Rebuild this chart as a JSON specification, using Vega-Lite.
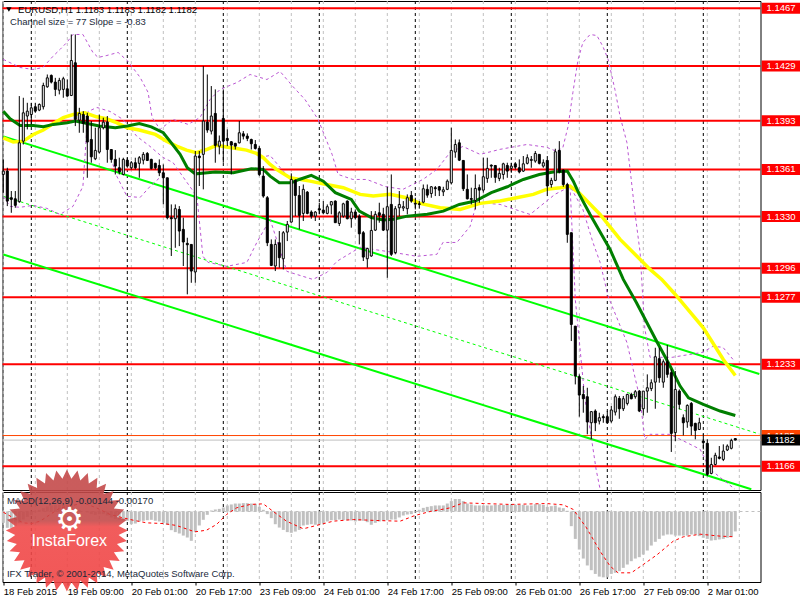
{"$schema":"https://vega.github.io/schema/vega-lite/v6.json","padding":{"left":-4.5,"top":0,"right":5,"bottom":16},"background":"white","spacing":2,"bounds":"flush","config":{"scale":{"continuousPadding":0},"view":{"stroke":"black","strokeWidth":1},"text":{"font":"Liberation Sans"},"axis":{"labelFont":"Liberation Sans","labelFontSize":9.5,"labelColor":"black","titleFontSize":0}},
"datasets":{
"gx":[{"i":0},{"i":8},{"i":16},{"i":24},{"i":32},{"i":40},{"i":48},{"i":56},{"i":64},{"i":72},{"i":80},{"i":88},{"i":96},{"i":104},{"i":112},{"i":120},{"i":128},{"i":136},{"i":144},{"i":152},{"i":160},{"i":168},{"i":176},{"i":184}],
"sep":[{"i":7},{"i":31},{"i":55},{"i":79},{"i":103},{"i":127},{"i":151},{"i":175}],
"lv":[{"p":1.1467},{"p":1.1429},{"p":1.1393},{"p":1.1361},{"p":1.133},{"p":1.1296},{"p":1.1277},{"p":1.1233},{"p":1.1166}],
"ch":[{"i":0,"p":1.13816,"s":"u"},{"i":189,"p":1.12254,"s":"u"},{"i":0,"p":1.1304,"s":"d"},{"i":187,"p":1.11497,"s":"d"}],
"mid":[{"i":0,"p":1.13422},{"i":189,"p":1.1186}],
"yel":[{"i":0,"p":1.13807},{"i":2.5,"p":1.13779},{"i":5,"p":1.13785},{"i":7.5,"p":1.13829},{"i":10,"p":1.13858},{"i":12.5,"p":1.13901},{"i":15,"p":1.13939},{"i":17.5,"p":1.1396},{"i":20.4,"p":1.13971},{"i":23.3,"p":1.13945},{"i":25.8,"p":1.13932},{"i":28.3,"p":1.13906},{"i":31,"p":1.13873},{"i":34,"p":1.13858},{"i":38,"p":1.13829},{"i":40.8,"p":1.13785},{"i":43.3,"p":1.13752},{"i":45.8,"p":1.13726},{"i":48.3,"p":1.13709},{"i":50.8,"p":1.1373},{"i":53.3,"p":1.13757},{"i":55.8,"p":1.13746},{"i":58.3,"p":1.13737},{"i":60.8,"p":1.13726},{"i":63.3,"p":1.13704},{"i":65,"p":1.13676},{"i":66.7,"p":1.13632},{"i":68.3,"p":1.13599},{"i":71.7,"p":1.13544},{"i":76.7,"p":1.13522},{"i":80.8,"p":1.135},{"i":85,"p":1.13479},{"i":89.2,"p":1.13435},{"i":92.5,"p":1.13424},{"i":96.7,"p":1.13435},{"i":100.8,"p":1.13413},{"i":104.2,"p":1.13376},{"i":109.2,"p":1.13347},{"i":114.2,"p":1.13336},{"i":119.2,"p":1.13376},{"i":124.2,"p":1.13391},{"i":128.3,"p":1.13413},{"i":132.5,"p":1.13435},{"i":135.8,"p":1.13468},{"i":139.2,"p":1.13479},{"i":141.7,"p":1.1349},{"i":144,"p":1.13444},{"i":149.2,"p":1.13303},{"i":154.2,"p":1.13139},{"i":161.7,"p":1.12942},{"i":164.6,"p":1.12876},{"i":168,"p":1.12777},{"i":175,"p":1.12558},{"i":180,"p":1.1235},{"i":183,"p":1.12245}],
"grn":[{"i":0,"p":1.13982},{"i":1.7,"p":1.13932},{"i":4.2,"p":1.13888},{"i":7.5,"p":1.13888},{"i":10,"p":1.13879},{"i":12.5,"p":1.13895},{"i":16,"p":1.13906},{"i":18,"p":1.13917},{"i":21,"p":1.13901},{"i":24,"p":1.13884},{"i":28,"p":1.13873},{"i":31,"p":1.13884},{"i":34,"p":1.13901},{"i":37,"p":1.13879},{"i":40,"p":1.1384},{"i":42,"p":1.13774},{"i":44.2,"p":1.13698},{"i":46,"p":1.1361},{"i":48,"p":1.1357},{"i":51,"p":1.13577},{"i":53,"p":1.13582},{"i":57.5,"p":1.13577},{"i":62,"p":1.13604},{"i":65,"p":1.13599},{"i":66.7,"p":1.13555},{"i":69,"p":1.13511},{"i":72,"p":1.13511},{"i":74,"p":1.13533},{"i":77,"p":1.1356},{"i":80,"p":1.13522},{"i":83,"p":1.13446},{"i":87,"p":1.13402},{"i":89,"p":1.13325},{"i":92,"p":1.13282},{"i":95,"p":1.13266},{"i":97.5,"p":1.13271},{"i":101,"p":1.13292},{"i":106,"p":1.13304},{"i":110,"p":1.13325},{"i":114,"p":1.13369},{"i":118,"p":1.13391},{"i":122,"p":1.13446},{"i":126,"p":1.13485},{"i":130,"p":1.13533},{"i":134,"p":1.13566},{"i":137.5,"p":1.13582},{"i":141,"p":1.13588},{"i":142.5,"p":1.13522},{"i":144,"p":1.13435},{"i":146.7,"p":1.13303},{"i":151.7,"p":1.13073},{"i":155,"p":1.12876},{"i":158.3,"p":1.12723},{"i":163.3,"p":1.12471},{"i":166.7,"p":1.12307},{"i":169.2,"p":1.12175},{"i":171.3,"p":1.12098},{"i":175,"p":1.12055},{"i":179.2,"p":1.12011},{"i":183,"p":1.11982}],
"bb":[{"s":"a","i":0,"p":1.14322},{"s":"a","i":4.2,"p":1.14269},{"s":"a","i":7.4,"p":1.14256},{"s":"a","i":9.9,"p":1.14269},{"s":"a","i":12.4,"p":1.14342},{"s":"a","i":14.2,"p":1.14388},{"s":"a","i":15.9,"p":1.14434},{"s":"a","i":17.4,"p":1.14486},{"s":"a","i":19.9,"p":1.14486},{"s":"a","i":22.4,"p":1.14368},{"s":"a","i":23.7,"p":1.14335},{"s":"a","i":25.9,"p":1.14348},{"s":"a","i":28.7,"p":1.14368},{"s":"a","i":31.2,"p":1.14309},{"s":"a","i":34.2,"p":1.14204},{"s":"a","i":36.2,"p":1.14105},{"s":"a","i":37.2,"p":1.13941},{"s":"a","i":39.2,"p":1.13862},{"s":"a","i":42.4,"p":1.13928},{"s":"a","i":46.2,"p":1.13895},{"s":"a","i":49.2,"p":1.13941},{"s":"a","i":51.7,"p":1.14059},{"s":"a","i":54.2,"p":1.14125},{"s":"a","i":58.4,"p":1.1417},{"s":"a","i":61.7,"p":1.14223},{"s":"a","i":65.9,"p":1.1419},{"s":"a","i":69.2,"p":1.14243},{"s":"a","i":72.4,"p":1.14144},{"s":"a","i":75.4,"p":1.14059},{"s":"a","i":78.7,"p":1.13928},{"s":"a","i":82.2,"p":1.13698},{"s":"a","i":83.7,"p":1.13566},{"s":"a","i":87.4,"p":1.13533},{"s":"a","i":90.9,"p":1.13533},{"s":"a","i":95.4,"p":1.13487},{"s":"a","i":99.9,"p":1.13468},{"s":"a","i":104.9,"p":1.13533},{"s":"a","i":108.4,"p":1.13599},{"s":"a","i":111.7,"p":1.13711},{"s":"a","i":114.9,"p":1.1375},{"s":"a","i":119.2,"p":1.13698},{"s":"a","i":124.2,"p":1.13731},{"s":"a","i":130.9,"p":1.13763},{"s":"a","i":135.9,"p":1.13744},{"s":"a","i":138.4,"p":1.13717},{"s":"a","i":139.9,"p":1.13744},{"s":"a","i":141.2,"p":1.13882},{"s":"a","i":142.4,"p":1.14105},{"s":"a","i":143.7,"p":1.14322},{"s":"a","i":144.9,"p":1.14433},{"s":"a","i":146.7,"p":1.14486},{"s":"a","i":148.4,"p":1.14479},{"s":"a","i":149.9,"p":1.14407},{"s":"a","i":151.2,"p":1.14322},{"s":"a","i":152.9,"p":1.14125},{"s":"a","i":154.2,"p":1.13947},{"s":"a","i":155.9,"p":1.13776},{"s":"a","i":156.7,"p":1.13599},{"s":"a","i":157.9,"p":1.13317},{"s":"a","i":159.2,"p":1.13054},{"s":"a","i":159.9,"p":1.12745},{"s":"a","i":160.4,"p":1.12548},{"s":"a","i":161.7,"p":1.12364},{"s":"a","i":167.2,"p":1.12364},{"s":"a","i":174.9,"p":1.12397},{"s":"a","i":177.4,"p":1.12436},{"s":"a","i":179.9,"p":1.1243},{"s":"a","i":182.4,"p":1.12351},
{"s":"b","i":0,"p":1.13422},{"s":"b","i":1.7,"p":1.13356},{"s":"b","i":4.2,"p":1.1335},{"s":"b","i":7.4,"p":1.13363},{"s":"b","i":10.9,"p":1.13343},{"s":"b","i":14.2,"p":1.13303},{"s":"b","i":17.4,"p":1.13356},{"s":"b","i":19.9,"p":1.13487},{"s":"b","i":21.2,"p":1.1398},{"s":"b","i":23.4,"p":1.14006},{"s":"b","i":26.7,"p":1.1398},{"s":"b","i":29.9,"p":1.13928},{"s":"b","i":33.4,"p":1.13816},{"s":"b","i":36.7,"p":1.1375},{"s":"b","i":39.9,"p":1.13678},{"s":"b","i":42.4,"p":1.13645},{"s":"b","i":45.9,"p":1.13514},{"s":"b","i":48.4,"p":1.13422},{"s":"b","i":49.9,"p":1.13028},{"s":"b","i":51.2,"p":1.12988},{"s":"b","i":55.9,"p":1.12962},{"s":"b","i":60.9,"p":1.12988},{"s":"b","i":63.4,"p":1.1312},{"s":"b","i":66.7,"p":1.13271},{"s":"b","i":70.9,"p":1.12929},{"s":"b","i":77.4,"p":1.12876},{"s":"b","i":80.9,"p":1.12922},{"s":"b","i":83.4,"p":1.12995},{"s":"b","i":89.2,"p":1.13087},{"s":"b","i":97.4,"p":1.13054},{"s":"b","i":103.4,"p":1.13028},{"s":"b","i":108.4,"p":1.13041},{"s":"b","i":109.9,"p":1.13119},{"s":"b","i":113.4,"p":1.13119},{"s":"b","i":116.7,"p":1.13225},{"s":"b","i":118.4,"p":1.13382},{"s":"b","i":124.2,"p":1.13369},{"s":"b","i":131.7,"p":1.13303},{"s":"b","i":137.9,"p":1.13435},{"s":"b","i":141.7,"p":1.13487},{"s":"b","i":144.9,"p":1.13336},{"s":"b","i":147.4,"p":1.1312},{"s":"b","i":149.2,"p":1.12988},{"s":"b","i":151.2,"p":1.12765},{"s":"b","i":155.9,"p":1.12462},{"s":"b","i":159.2,"p":1.12088},{"s":"b","i":160.4,"p":1.11825},{"s":"b","i":161.7,"p":1.11858},{"s":"b","i":166.7,"p":1.11858},{"s":"b","i":174.2,"p":1.1176},{"s":"b","i":176.7,"p":1.11628},{"s":"b","i":182.9,"p":1.11497},
{"s":"c","i":27.4,"p":1.13632},{"s":"c","i":28.4,"p":1.13553},{"s":"c","i":30.9,"p":1.13422},{"s":"c","i":34.2,"p":1.13415},{"s":"c","i":36.7,"p":1.13487},{"s":"c","i":39.2,"p":1.13547},
{"s":"e","i":64.2,"p":1.13678},{"s":"e","i":66.7,"p":1.13691},{"s":"e","i":69.2,"p":1.13612},{"s":"e","i":70.9,"p":1.13562},
{"s":"f","i":141.7,"p":1.13487},{"s":"f","i":143,"p":1.12745},{"s":"f","i":145.4,"p":1.12088},{"s":"f","i":146.7,"p":1.11891},{"s":"f","i":148.2,"p":1.11628},{"s":"f","i":149.2,"p":1.11497}],
"sig":[{"i":0,"v":-0.00005},{"i":2.5,"v":-0.00046},{"i":5,"v":-0.00082},{"i":7.1,"v":-0.00087},{"i":9.2,"v":-0.0007},{"i":11.7,"v":-0.00022},{"i":14.2,"v":0.00036},{"i":16.7,"v":0.00053},{"i":20,"v":0.00086},{"i":23.3,"v":0.00036},{"i":26.7,"v":-0.00022},{"i":30,"v":-0.00046},{"i":32.5,"v":-0.00063},{"i":35.8,"v":-0.00082},{"i":40,"v":-0.00087},{"i":43.3,"v":-0.00101},{"i":47.9,"v":-0.00147},{"i":50.8,"v":-0.00135},{"i":53.3,"v":-0.00094},{"i":55.8,"v":-0.00022},{"i":58.3,"v":0.00036},{"i":61.7,"v":0.0007},{"i":65,"v":0.00076},{"i":67.5,"v":0},{"i":70.8,"v":-0.0007},{"i":75,"v":-0.00125},{"i":79.2,"v":-0.00094},{"i":82.5,"v":-0.0007},{"i":87.5,"v":-0.00058},{"i":93.3,"v":-0.00065},{"i":99.2,"v":-0.0007},{"i":102.9,"v":-0.00029},{"i":106.7,"v":0},{"i":111.7,"v":0.00036},{"i":115,"v":0.00086},{"i":120,"v":0.00079},{"i":126.7,"v":0.0007},{"i":135.8,"v":0.00079},{"i":140,"v":0.00066},{"i":142.5,"v":0.0002},{"i":145.8,"v":-0.00118},{"i":149.2,"v":-0.00287},{"i":151.7,"v":-0.00395},{"i":153.7,"v":-0.00443},{"i":157,"v":-0.00443},{"i":160,"v":-0.00383},{"i":163.5,"v":-0.00311},{"i":167.5,"v":-0.00214},{"i":170,"v":-0.00183},{"i":174.2,"v":-0.00164},{"i":179.2,"v":-0.00178},{"i":183,"v":-0.00183}],
"hist":[{"i":0,"v":-0.00082},{"i":1,"v":-0.00118},{"i":2,"v":-0.00118},{"i":3,"v":-0.00106},{"i":4,"v":-0.00082},{"i":5,"v":-0.00058},{"i":6,"v":-0.00039},{"i":7,"v":-0.00024},{"i":8,"v":-0.00005},{"i":9,"v":0.00017},{"i":10,"v":0.00033},{"i":11,"v":0.0005},{"i":12,"v":0.0006},{"i":13,"v":0.00066},{"i":14,"v":0.00066},{"i":15,"v":0.00066},{"i":16,"v":0.00066},{"i":17,"v":0.00073},{"i":18,"v":0.00033},{"i":19,"v":0.00013},{"i":20,"v":0},{"i":21,"v":-0.00007},{"i":22,"v":-0.00019},{"i":23,"v":-0.00024},{"i":24,"v":-0.00019},{"i":25,"v":-0.00019},{"i":26,"v":-0.00029},{"i":27,"v":-0.00043},{"i":28,"v":-0.00053},{"i":29,"v":-0.00058},{"i":30,"v":-0.00063},{"i":31,"v":-0.00067},{"i":32,"v":-0.00092},{"i":33,"v":-0.00087},{"i":34,"v":-0.00072},{"i":35,"v":-0.00067},{"i":36,"v":-0.00063},{"i":37,"v":-0.0006},{"i":38,"v":-0.00067},{"i":39,"v":-0.00072},{"i":40,"v":-0.00082},{"i":41,"v":-0.00096},{"i":42,"v":-0.00135},{"i":43,"v":-0.00149},{"i":44,"v":-0.00159},{"i":45,"v":-0.00174},{"i":46,"v":-0.00188},{"i":47,"v":-0.00212},{"i":48,"v":-0.00149},{"i":49,"v":-0.00101},{"i":50,"v":-0.0006},{"i":51,"v":-0.00024},{"i":52,"v":0.0001},{"i":53,"v":0.0002},{"i":54,"v":0.00026},{"i":55,"v":0.0004},{"i":56,"v":0.0006},{"i":57,"v":0.0007},{"i":58,"v":0.00079},{"i":59,"v":0.00079},{"i":60,"v":0.00083},{"i":61,"v":0.00083},{"i":62,"v":0.00079},{"i":63,"v":0.00076},{"i":64,"v":0.00046},{"i":65,"v":0.00017},{"i":66,"v":-0.00019},{"i":67,"v":-0.00048},{"i":68,"v":-0.00092},{"i":69,"v":-0.00116},{"i":70,"v":-0.00133},{"i":71,"v":-0.00149},{"i":72,"v":-0.00154},{"i":73,"v":-0.00145},{"i":74,"v":-0.00133},{"i":75,"v":-0.00101},{"i":76,"v":-0.00096},{"i":77,"v":-0.00092},{"i":78,"v":-0.00096},{"i":79,"v":-0.00096},{"i":80,"v":-0.00087},{"i":81,"v":-0.00072},{"i":82,"v":-0.00063},{"i":83,"v":-0.00063},{"i":84,"v":-0.00058},{"i":85,"v":-0.00063},{"i":86,"v":-0.00063},{"i":87,"v":-0.00065},{"i":88,"v":-0.00072},{"i":89,"v":-0.00067},{"i":90,"v":-0.00067},{"i":91,"v":-0.00077},{"i":92,"v":-0.00096},{"i":93,"v":-0.00082},{"i":94,"v":-0.00072},{"i":95,"v":-0.00067},{"i":96,"v":-0.00063},{"i":97,"v":-0.00058},{"i":98,"v":-0.00058},{"i":99,"v":-0.00043},{"i":100,"v":-0.00029},{"i":101,"v":-0.00022},{"i":102,"v":-0.00019},{"i":103,"v":-0.00007},{"i":104,"v":0.00017},{"i":105,"v":0.00036},{"i":106,"v":0.00046},{"i":107,"v":0.00053},{"i":108,"v":0.0006},{"i":109,"v":0.0006},{"i":110,"v":0.0006},{"i":111,"v":0.00079},{"i":112,"v":0.00103},{"i":113,"v":0.00124},{"i":114,"v":0.00124},{"i":115,"v":0.00103},{"i":116,"v":0.00079},{"i":117,"v":0.0007},{"i":118,"v":0.0006},{"i":119,"v":0.0006},{"i":120,"v":0.0006},{"i":121,"v":0.0006},{"i":122,"v":0.0006},{"i":123,"v":0.00066},{"i":124,"v":0.00066},{"i":125,"v":0.00066},{"i":126,"v":0.00066},{"i":127,"v":0.00066},{"i":128,"v":0.00066},{"i":129,"v":0.00066},{"i":130,"v":0.00066},{"i":131,"v":0.0006},{"i":132,"v":0.0006},{"i":133,"v":0.00073},{"i":134,"v":0.00073},{"i":135,"v":0.00066},{"i":136,"v":0.00046},{"i":137,"v":0.00053},{"i":138,"v":0.0006},{"i":139,"v":0.0004},{"i":140,"v":0.00033},{"i":141,"v":0.00007},{"i":142,"v":-0.00106},{"i":143,"v":-0.00198},{"i":144,"v":-0.00275},{"i":145,"v":-0.0034},{"i":146,"v":-0.0039},{"i":147,"v":-0.00424},{"i":148,"v":-0.00451},{"i":149,"v":-0.0047},{"i":150,"v":-0.00475},{"i":151,"v":-0.00475},{"i":152,"v":-0.00451},{"i":153,"v":-0.00443},{"i":154,"v":-0.00431},{"i":155,"v":-0.00407},{"i":156,"v":-0.00383},{"i":157,"v":-0.00359},{"i":158,"v":-0.0034},{"i":159,"v":-0.0033},{"i":160,"v":-0.00311},{"i":161,"v":-0.00282},{"i":162,"v":-0.00246},{"i":163,"v":-0.00219},{"i":164,"v":-0.00198},{"i":165,"v":-0.00174},{"i":166,"v":-0.00166},{"i":167,"v":-0.00166},{"i":168,"v":-0.00174},{"i":169,"v":-0.00174},{"i":170,"v":-0.00174},{"i":171,"v":-0.00174},{"i":172,"v":-0.00166},{"i":173,"v":-0.00166},{"i":174,"v":-0.00178},{"i":175,"v":-0.0019},{"i":176,"v":-0.00198},{"i":177,"v":-0.0021},{"i":178,"v":-0.00207},{"i":179,"v":-0.00202},{"i":180,"v":-0.00198},{"i":181,"v":-0.0019},{"i":182,"v":-0.00183},{"i":183,"v":-0.00144}],
"ohlc":[{"i":0,"o":1.13566,"h":1.13665,"l":1.13446,"c":1.13588},{"i":1,"o":1.13588,"h":1.1361,"l":1.13358,"c":1.13391},{"i":2,"o":1.13413,"h":1.13457,"l":1.13314,"c":1.13402},{"i":3,"o":1.13406,"h":1.13457,"l":1.13347,"c":1.13363},{"i":4,"o":1.13387,"h":1.14081,"l":1.1338,"c":1.13774},{"i":5,"o":1.13785,"h":1.1407,"l":1.13763,"c":1.13971},{"i":6,"o":1.1395,"h":1.14037,"l":1.13862,"c":1.13982},{"i":7,"o":1.1396,"h":1.14037,"l":1.13895,"c":1.14004},{"i":8,"o":1.14011,"h":1.14037,"l":1.13971,"c":1.13982},{"i":9,"o":1.13989,"h":1.14033,"l":1.13982,"c":1.14026},{"i":10,"o":1.14011,"h":1.14169,"l":1.13993,"c":1.14151},{"i":11,"o":1.14142,"h":1.14223,"l":1.14136,"c":1.14201},{"i":12,"o":1.14217,"h":1.14223,"l":1.14164,"c":1.14173},{"i":13,"o":1.14173,"h":1.14201,"l":1.14081,"c":1.14125},{"i":14,"o":1.1412,"h":1.14201,"l":1.14092,"c":1.14184},{"i":15,"o":1.14125,"h":1.14208,"l":1.1407,"c":1.14195},{"i":16,"o":1.14129,"h":1.1419,"l":1.14077,"c":1.14081},{"i":17,"o":1.14085,"h":1.14486,"l":1.14081,"c":1.14315},{"i":18,"o":1.143,"h":1.14486,"l":1.13884,"c":1.13928},{"i":19,"o":1.13923,"h":1.14004,"l":1.1384,"c":1.13967},{"i":20,"o":1.1396,"h":1.13982,"l":1.1384,"c":1.13901},{"i":21,"o":1.1395,"h":1.13971,"l":1.13544,"c":1.13779},{"i":22,"o":1.13796,"h":1.13917,"l":1.13643,"c":1.13682},{"i":23,"o":1.13669,"h":1.13873,"l":1.1366,"c":1.13724},{"i":24,"o":1.13713,"h":1.1396,"l":1.13704,"c":1.13873},{"i":25,"o":1.13873,"h":1.13939,"l":1.13862,"c":1.1391},{"i":26,"o":1.1391,"h":1.1395,"l":1.13643,"c":1.1373},{"i":27,"o":1.1373,"h":1.1373,"l":1.13643,"c":1.13665},{"i":28,"o":1.13665,"h":1.13726,"l":1.13566,"c":1.13621},{"i":29,"o":1.1361,"h":1.13676,"l":1.13566,"c":1.13582},{"i":30,"o":1.13566,"h":1.13676,"l":1.1356,"c":1.13665},{"i":31,"o":1.1366,"h":1.13676,"l":1.1361,"c":1.13621},{"i":32,"o":1.1361,"h":1.13654,"l":1.13599,"c":1.13643},{"i":33,"o":1.13643,"h":1.13676,"l":1.13599,"c":1.1361},{"i":34,"o":1.13639,"h":1.13687,"l":1.13544,"c":1.13676},{"i":35,"o":1.1366,"h":1.13713,"l":1.13632,"c":1.13698},{"i":36,"o":1.13704,"h":1.13713,"l":1.13654,"c":1.13658},{"i":37,"o":1.13665,"h":1.13669,"l":1.13599,"c":1.13606},{"i":38,"o":1.13639,"h":1.13643,"l":1.13599,"c":1.1361},{"i":39,"o":1.13625,"h":1.13665,"l":1.13555,"c":1.13577},{"i":40,"o":1.13577,"h":1.13632,"l":1.13369,"c":1.13544},{"i":41,"o":1.13544,"h":1.13544,"l":1.13271,"c":1.13282},{"i":42,"o":1.13282,"h":1.13369,"l":1.1303,"c":1.13275},{"i":43,"o":1.13275,"h":1.13369,"l":1.13084,"c":1.13341},{"i":44,"o":1.13336,"h":1.13358,"l":1.13095,"c":1.13194},{"i":45,"o":1.13205,"h":1.13282,"l":1.12964,"c":1.13122},{"i":46,"o":1.13113,"h":1.1315,"l":1.12778,"c":1.13104},{"i":47,"o":1.13106,"h":1.13106,"l":1.12854,"c":1.12931},{"i":48,"o":1.12925,"h":1.1372,"l":1.12854,"c":1.13687},{"i":49,"o":1.13687,"h":1.1372,"l":1.1349,"c":1.13676},{"i":50,"o":1.13698,"h":1.14278,"l":1.13468,"c":1.13917},{"i":51,"o":1.1391,"h":1.14223,"l":1.1384,"c":1.13858},{"i":52,"o":1.13851,"h":1.14147,"l":1.13829,"c":1.1395},{"i":53,"o":1.13967,"h":1.14125,"l":1.13643,"c":1.13757},{"i":54,"o":1.13752,"h":1.13822,"l":1.13698,"c":1.13785},{"i":55,"o":1.13934,"h":1.14125,"l":1.13643,"c":1.13785},{"i":56,"o":1.13803,"h":1.13862,"l":1.13752,"c":1.13789},{"i":57,"o":1.13781,"h":1.13785,"l":1.13566,"c":1.13759},{"i":58,"o":1.1377,"h":1.13774,"l":1.1373,"c":1.13752},{"i":59,"o":1.13774,"h":1.13917,"l":1.1377,"c":1.1384},{"i":60,"o":1.13833,"h":1.13851,"l":1.13796,"c":1.13818},{"i":61,"o":1.13818,"h":1.13836,"l":1.13785,"c":1.13803},{"i":62,"o":1.13796,"h":1.13801,"l":1.1373,"c":1.13768},{"i":63,"o":1.13763,"h":1.13792,"l":1.1373,"c":1.13737},{"i":64,"o":1.13737,"h":1.13752,"l":1.13555,"c":1.13566},{"i":65,"o":1.13555,"h":1.13621,"l":1.13413,"c":1.13424},{"i":66,"o":1.13413,"h":1.13424,"l":1.13095,"c":1.13117},{"i":67,"o":1.13106,"h":1.13139,"l":1.12964,"c":1.12968},{"i":68,"o":1.12964,"h":1.13139,"l":1.12931,"c":1.13106},{"i":69,"o":1.13117,"h":1.13194,"l":1.12953,"c":1.13019},{"i":70,"o":1.13012,"h":1.13194,"l":1.12942,"c":1.13183},{"i":71,"o":1.13187,"h":1.1326,"l":1.13128,"c":1.13238},{"i":72,"o":1.13253,"h":1.13573,"l":1.13249,"c":1.13533},{"i":73,"o":1.13527,"h":1.13533,"l":1.13292,"c":1.13428},{"i":74,"o":1.13428,"h":1.1349,"l":1.13205,"c":1.13297},{"i":75,"o":1.1331,"h":1.135,"l":1.1326,"c":1.13468},{"i":76,"o":1.1345,"h":1.13457,"l":1.13304,"c":1.1331},{"i":77,"o":1.13319,"h":1.1333,"l":1.13275,"c":1.13292},{"i":78,"o":1.13292,"h":1.13325,"l":1.1326,"c":1.13319},{"i":79,"o":1.13341,"h":1.1338,"l":1.13304,"c":1.13332},{"i":80,"o":1.13332,"h":1.13391,"l":1.13304,"c":1.13314},{"i":81,"o":1.1331,"h":1.13369,"l":1.13304,"c":1.13354},{"i":82,"o":1.13365,"h":1.13391,"l":1.13304,"c":1.13387},{"i":83,"o":1.13391,"h":1.13395,"l":1.13249,"c":1.13249},{"i":84,"o":1.13244,"h":1.13325,"l":1.13227,"c":1.13314},{"i":85,"o":1.13292,"h":1.1338,"l":1.13282,"c":1.13373},{"i":86,"o":1.13391,"h":1.13395,"l":1.13271,"c":1.13275},{"i":87,"o":1.13275,"h":1.13347,"l":1.13216,"c":1.13319},{"i":88,"o":1.13319,"h":1.13336,"l":1.13271,"c":1.13282},{"i":89,"o":1.13292,"h":1.13304,"l":1.13106,"c":1.13176},{"i":90,"o":1.13183,"h":1.13194,"l":1.12997,"c":1.13023},{"i":91,"o":1.13012,"h":1.13084,"l":1.12953,"c":1.1308},{"i":92,"o":1.1303,"h":1.13325,"l":1.13025,"c":1.13198},{"i":93,"o":1.132,"h":1.13325,"l":1.13194,"c":1.13304},{"i":94,"o":1.13314,"h":1.1338,"l":1.13249,"c":1.13297},{"i":95,"o":1.13304,"h":1.13347,"l":1.13194,"c":1.132},{"i":96,"o":1.132,"h":1.13485,"l":1.12887,"c":1.13354},{"i":97,"o":1.13369,"h":1.13566,"l":1.1303,"c":1.13041},{"i":98,"o":1.13052,"h":1.13358,"l":1.13041,"c":1.13341},{"i":99,"o":1.13347,"h":1.13457,"l":1.13292,"c":1.13369},{"i":100,"o":1.13345,"h":1.13391,"l":1.13325,"c":1.13354},{"i":101,"o":1.13341,"h":1.13435,"l":1.13304,"c":1.13413},{"i":102,"o":1.13428,"h":1.13457,"l":1.1338,"c":1.13391},{"i":103,"o":1.13376,"h":1.13413,"l":1.13336,"c":1.13371},{"i":104,"o":1.13373,"h":1.13391,"l":1.13341,"c":1.13369},{"i":105,"o":1.13384,"h":1.135,"l":1.13376,"c":1.13472},{"i":106,"o":1.13468,"h":1.135,"l":1.13413,"c":1.1343},{"i":107,"o":1.13441,"h":1.1349,"l":1.13413,"c":1.13485},{"i":108,"o":1.13479,"h":1.1349,"l":1.13424,"c":1.13472},{"i":109,"o":1.13485,"h":1.1349,"l":1.13424,"c":1.13463},{"i":110,"o":1.13452,"h":1.13485,"l":1.13424,"c":1.13465},{"i":111,"o":1.13468,"h":1.13533,"l":1.13463,"c":1.13522},{"i":112,"o":1.13511,"h":1.13873,"l":1.135,"c":1.13724},{"i":113,"o":1.13713,"h":1.13796,"l":1.13676,"c":1.13763},{"i":114,"o":1.13774,"h":1.13796,"l":1.13654,"c":1.1366},{"i":115,"o":1.13658,"h":1.13658,"l":1.13457,"c":1.13472},{"i":116,"o":1.13468,"h":1.13566,"l":1.13402,"c":1.13406},{"i":117,"o":1.13408,"h":1.13479,"l":1.13369,"c":1.13402},{"i":118,"o":1.13395,"h":1.13566,"l":1.13336,"c":1.13474},{"i":119,"o":1.13479,"h":1.135,"l":1.1338,"c":1.13463},{"i":120,"o":1.13463,"h":1.13676,"l":1.13446,"c":1.13551},{"i":121,"o":1.1354,"h":1.13676,"l":1.13511,"c":1.13606},{"i":122,"o":1.13627,"h":1.13632,"l":1.13544,"c":1.13621},{"i":123,"o":1.13625,"h":1.13625,"l":1.13511,"c":1.13547},{"i":124,"o":1.1354,"h":1.1361,"l":1.13522,"c":1.13573},{"i":125,"o":1.13566,"h":1.13643,"l":1.13533,"c":1.13636},{"i":126,"o":1.13625,"h":1.13643,"l":1.13544,"c":1.13588},{"i":127,"o":1.13606,"h":1.13643,"l":1.13577,"c":1.13621},{"i":128,"o":1.13636,"h":1.13647,"l":1.13599,"c":1.13614},{"i":129,"o":1.1361,"h":1.13665,"l":1.13573,"c":1.13582},{"i":130,"o":1.13588,"h":1.13687,"l":1.13582,"c":1.13636},{"i":131,"o":1.13639,"h":1.13698,"l":1.13632,"c":1.13676},{"i":132,"o":1.13658,"h":1.13687,"l":1.1361,"c":1.13665},{"i":133,"o":1.13654,"h":1.1372,"l":1.13643,"c":1.13704},{"i":134,"o":1.13698,"h":1.13698,"l":1.13632,"c":1.13639},{"i":135,"o":1.13621,"h":1.13665,"l":1.1361,"c":1.13643},{"i":136,"o":1.13658,"h":1.13687,"l":1.13424,"c":1.1349},{"i":137,"o":1.135,"h":1.13544,"l":1.13479,"c":1.13527},{"i":138,"o":1.13527,"h":1.13735,"l":1.13522,"c":1.13715},{"i":139,"o":1.13724,"h":1.13785,"l":1.13573,"c":1.13582},{"i":140,"o":1.13595,"h":1.13599,"l":1.13485,"c":1.135},{"i":141,"o":1.135,"h":1.13511,"l":1.13117,"c":1.13172},{"i":142,"o":1.13183,"h":1.13183,"l":1.12471,"c":1.1258},{"i":143,"o":1.12569,"h":1.12569,"l":1.12186,"c":1.12241},{"i":144,"o":1.12237,"h":1.12252,"l":1.11974,"c":1.12116},{"i":145,"o":1.1212,"h":1.12175,"l":1.12,"c":1.12092},{"i":146,"o":1.12105,"h":1.12164,"l":1.11858,"c":1.11939},{"i":147,"o":1.11934,"h":1.12011,"l":1.11825,"c":1.12007},{"i":148,"o":1.12011,"h":1.12022,"l":1.11879,"c":1.11934},{"i":149,"o":1.11945,"h":1.12,"l":1.11923,"c":1.11967},{"i":150,"o":1.11974,"h":1.11989,"l":1.11934,"c":1.11967},{"i":151,"o":1.11974,"h":1.12011,"l":1.1193,"c":1.11934},{"i":152,"o":1.11945,"h":1.12044,"l":1.11934,"c":1.12018},{"i":153,"o":1.12004,"h":1.1212,"l":1.11982,"c":1.12105},{"i":154,"o":1.12094,"h":1.1211,"l":1.1196,"c":1.12026},{"i":155,"o":1.12026,"h":1.1211,"l":1.12011,"c":1.12092},{"i":156,"o":1.12061,"h":1.12125,"l":1.12048,"c":1.1212},{"i":157,"o":1.1212,"h":1.12131,"l":1.12088,"c":1.12092},{"i":158,"o":1.12105,"h":1.12149,"l":1.12092,"c":1.12138},{"i":159,"o":1.12142,"h":1.12149,"l":1.12004,"c":1.12011},{"i":160,"o":1.12026,"h":1.12142,"l":1.11982,"c":1.12142},{"i":161,"o":1.12142,"h":1.12252,"l":1.12,"c":1.12164},{"i":162,"o":1.12158,"h":1.12219,"l":1.12142,"c":1.12197},{"i":163,"o":1.12201,"h":1.12427,"l":1.12026,"c":1.12368},{"i":164,"o":1.12355,"h":1.12427,"l":1.12197,"c":1.1223},{"i":165,"o":1.12201,"h":1.1235,"l":1.12164,"c":1.12335},{"i":166,"o":1.12335,"h":1.12445,"l":1.1223,"c":1.12252},{"i":167,"o":1.12263,"h":1.12285,"l":1.11742,"c":1.11864},{"i":168,"o":1.11869,"h":1.12274,"l":1.11814,"c":1.12153},{"i":169,"o":1.12142,"h":1.12153,"l":1.12022,"c":1.12055},{"i":170,"o":1.11967,"h":1.11989,"l":1.11851,"c":1.11934},{"i":171,"o":1.11939,"h":1.12055,"l":1.11901,"c":1.12048},{"i":172,"o":1.12061,"h":1.1207,"l":1.11851,"c":1.11912},{"i":173,"o":1.1193,"h":1.11934,"l":1.11825,"c":1.11884},{"i":174,"o":1.1189,"h":1.11967,"l":1.11886,"c":1.11934},{"i":175,"o":1.11814,"h":1.11858,"l":1.11759,"c":1.11803},{"i":176,"o":1.11799,"h":1.11825,"l":1.11584,"c":1.11595},{"i":177,"o":1.11601,"h":1.11704,"l":1.11595,"c":1.1166},{"i":178,"o":1.1166,"h":1.11737,"l":1.11654,"c":1.1172},{"i":179,"o":1.11709,"h":1.11781,"l":1.11693,"c":1.117},{"i":180,"o":1.11693,"h":1.11792,"l":1.11682,"c":1.11748},{"i":181,"o":1.11755,"h":1.11792,"l":1.11748,"c":1.11781},{"i":182,"o":1.11766,"h":1.11829,"l":1.11759,"c":1.11818},{"i":183,"o":1.1183,"h":1.1183,"l":1.1182,"c":1.1182}]
},
"vconcat":[
{"width":758,"height":489,"layer":[
{"data":{"name":"gx"},"mark":{"type":"rule","color":"#c0c0c0","strokeDash":[3,3]},"encoding":{"x":{"field":"i","type":"quantitative","scale":{"domain":[-0.2,189.3]},"axis":null}}},
{"data":{"values":[{"p":1.1155}]},"mark":{"type":"rule","opacity":0},"encoding":{"y":{"field":"p","type":"quantitative","scale":{"domain":[1.11492,1.14706]},"axis":{"orient":"right","title":null,"values":[1.1155,1.118,1.1205,1.123,1.1255,1.128,1.1305,1.133,1.1355,1.138,1.1405,1.143,1.1455],"format":".4f","grid":true,"gridColor":"#c0c0c0","gridDash":[3,3],"domain":false,"tickSize":3,"tickColor":"black","labelPadding":2,"labelOverlap":false}}}},
{"data":{"name":"sep"},"mark":{"type":"rule","color":"black","strokeDash":[3,3]},"encoding":{"x":{"field":"i","type":"quantitative","scale":{"domain":[-0.2,189.3]},"axis":null}}},
{"data":{"name":"lv"},"mark":{"type":"rule","color":"#ff0000","strokeWidth":2,"yOffset":1.7},"encoding":{"y":{"field":"p","type":"quantitative","scale":{"domain":[1.11492,1.14706]},"axis":null}}},
{"data":{"values":[{"p":1.1185}]},"mark":{"type":"rule","color":"#ff4500","strokeWidth":1},"encoding":{"y":{"field":"p","type":"quantitative","scale":{"domain":[1.11492,1.14706]},"axis":null}}},
{"data":{"values":[{"p":1.1182}]},"mark":{"type":"rule","color":"#c0c0c0","strokeWidth":1},"encoding":{"y":{"field":"p","type":"quantitative","scale":{"domain":[1.11492,1.14706]},"axis":null}}},
{"data":{"name":"ch"},"mark":{"type":"line","color":"#00ff00","strokeWidth":2},"encoding":{"x":{"field":"i","type":"quantitative","scale":{"domain":[-0.2,189.3]},"axis":null},"y":{"field":"p","type":"quantitative","scale":{"domain":[1.11492,1.14706]},"axis":null},"detail":{"field":"s"}}},
{"data":{"name":"mid"},"mark":{"type":"line","color":"#00ff00","strokeWidth":1,"strokeDash":[3,3]},"encoding":{"x":{"field":"i","type":"quantitative","scale":{"domain":[-0.2,189.3]},"axis":null},"y":{"field":"p","type":"quantitative","scale":{"domain":[1.11492,1.14706]},"axis":null}}},
{"data":{"name":"bb"},"mark":{"type":"line","color":"#ba55d3","strokeWidth":1,"strokeDash":[3,3]},"encoding":{"x":{"field":"i","type":"quantitative","scale":{"domain":[-0.2,189.3]},"axis":null},"y":{"field":"p","type":"quantitative","scale":{"domain":[1.11492,1.14706]},"axis":null},"detail":{"field":"s"}}},
{"data":{"name":"yel"},"mark":{"type":"line","color":"#ffff00","strokeWidth":3.5},"encoding":{"x":{"field":"i","type":"quantitative","scale":{"domain":[-0.2,189.3]},"axis":null},"y":{"field":"p","type":"quantitative","scale":{"domain":[1.11492,1.14706]},"axis":null}}},
{"data":{"name":"grn"},"mark":{"type":"line","color":"#007f00","strokeWidth":3},"encoding":{"x":{"field":"i","type":"quantitative","scale":{"domain":[-0.2,189.3]},"axis":null},"y":{"field":"p","type":"quantitative","scale":{"domain":[1.11492,1.14706]},"axis":null}}},
{"data":{"name":"ohlc"},"mark":{"type":"rule","color":"black","strokeWidth":1},"encoding":{"x":{"field":"i","type":"quantitative","scale":{"domain":[-0.2,189.3]},"axis":null},"y":{"field":"l","type":"quantitative","scale":{"domain":[1.11492,1.14706]},"axis":null},"y2":{"field":"h"}}},
{"data":{"name":"ohlc"},"mark":{"type":"bar","width":2,"stroke":"black","strokeWidth":1},"encoding":{"x":{"field":"i","type":"quantitative","scale":{"domain":[-0.2,189.3]},"axis":null},"y":{"field":"o","type":"quantitative","scale":{"domain":[1.11492,1.14706]},"axis":null},"y2":{"field":"c"},"fill":{"condition":{"test":"datum.c>datum.o","value":"white"},"value":"black"}}},
{"data":{"name":"lv"},"mark":{"type":"rule","color":"#ff0000","strokeWidth":11,"yOffset":1.7},"encoding":{"y":{"field":"p","type":"quantitative","scale":{"domain":[1.11492,1.14706]},"axis":null},"x":{"datum":189.6,"scale":{"domain":[-0.2,189.3]},"axis":null},"x2":{"datum":199.5}}},
{"data":{"name":"lv"},"mark":{"type":"text","color":"white","align":"left","fontSize":9.5,"yOffset":1.7},"encoding":{"y":{"field":"p","type":"quantitative","scale":{"domain":[1.11492,1.14706]},"axis":null},"x":{"datum":190.8,"scale":{"domain":[-0.2,189.3]},"axis":null},"text":{"field":"p","format":".4f"}}},
{"data":{"values":[{"p":1.1185}]},"mark":{"type":"rule","color":"#ff4500","strokeWidth":11},"encoding":{"y":{"field":"p","type":"quantitative","scale":{"domain":[1.11492,1.14706]},"axis":null},"x":{"datum":189.6,"scale":{"domain":[-0.2,189.3]},"axis":null},"x2":{"datum":199.5}}},
{"data":{"values":[{"p":1.1185}]},"mark":{"type":"text","color":"white","align":"left","fontSize":9.5},"encoding":{"y":{"field":"p","type":"quantitative","scale":{"domain":[1.11492,1.14706]},"axis":null},"x":{"datum":190.8,"scale":{"domain":[-0.2,189.3]},"axis":null},"text":{"field":"p","format":".4f"}}},
{"data":{"values":[{"p":1.1182}]},"mark":{"type":"rule","color":"black","strokeWidth":11},"encoding":{"y":{"field":"p","type":"quantitative","scale":{"domain":[1.11492,1.14706]},"axis":null},"x":{"datum":189.6,"scale":{"domain":[-0.2,189.3]},"axis":null},"x2":{"datum":199.5}}},
{"data":{"values":[{"p":1.1182}]},"mark":{"type":"text","color":"white","align":"left","fontSize":9.5},"encoding":{"y":{"field":"p","type":"quantitative","scale":{"domain":[1.11492,1.14706]},"axis":null},"x":{"datum":190.8,"scale":{"domain":[-0.2,189.3]},"axis":null},"text":{"field":"p","format":".4f"}}},
{"data":{"values":[{"t":"EURUSD,H1  1.1183 1.1183 1.1182 1.1182"}]},"mark":{"type":"text","align":"left","fontSize":9.5,"color":"black"},"encoding":{"x":{"datum":3.7,"scale":{"domain":[-0.2,189.3]},"axis":null},"y":{"datum":1.1465,"scale":{"domain":[1.11492,1.14706]},"axis":null},"text":{"field":"t"}}},
{"data":{"values":[{"t":"Channel size = 77 Slope = -0.83"}]},"mark":{"type":"text","align":"left","fontSize":9.5,"color":"#1a2a3a"},"encoding":{"x":{"datum":1.7,"scale":{"domain":[-0.2,189.3]},"axis":null},"y":{"datum":1.14565,"scale":{"domain":[1.11492,1.14706]},"axis":null},"text":{"field":"t"}}},
{"data":{"values":[{"t":"v"}]},"mark":{"type":"point","shape":"triangle-down","filled":true,"color":"black","size":28,"opacity":1},"encoding":{"x":{"datum":1.4,"scale":{"domain":[-0.2,189.3]},"axis":null},"y":{"datum":1.1465,"scale":{"domain":[1.11492,1.14706]},"axis":null}}}
]},
{"width":758,"height":90,"layer":[
{"data":{"name":"gx"},"mark":{"type":"rule","color":"#c0c0c0","strokeDash":[3,3]},"encoding":{"x":{"field":"i","type":"quantitative","scale":{"domain":[-0.2,189.3]},"axis":{"title":null,"values":[0,16,32,48,64,80,96,112,128,144,160,176],"labelExpr":"{'0':'18 Feb 2015','16':'19 Feb 09:00','32':'20 Feb 01:00','48':'20 Feb 17:00','64':'23 Feb 09:00','80':'24 Feb 01:00','96':'24 Feb 17:00','112':'25 Feb 09:00','128':'26 Feb 01:00','144':'26 Feb 17:00','160':'27 Feb 09:00','176':'2 Mar 01:00'}[datum.value]","labelAlign":"left","labelOverlap":false,"labelBound":false,"labelFlush":false,"tickSize":3,"tickColor":"black","domain":false,"grid":false,"labelPadding":1,"labelOffset":0}}}},
{"data":{"name":"sep"},"mark":{"type":"rule","color":"black","strokeDash":[3,3]},"encoding":{"x":{"field":"i","type":"quantitative","scale":{"domain":[-0.2,189.3]},"axis":{"title":null}}}},
{"data":{"values":[{"v":0}]},"mark":{"type":"rule","color":"#c0c0c0","strokeDash":[3,3]},"encoding":{"y":{"field":"v","type":"quantitative","scale":{"domain":[-0.00506,-0.00466,0,0.00124,0.00198],"range":[90,84,19.5,7,0]},"axis":{"orient":"right","title":null,"values":[0.00124,0,-0.00466],"labelExpr":"datum.value==0?'0.00':(datum.value>0?'0.00124':'-0.00466')","grid":false,"domain":false,"tickSize":3,"tickColor":"black","labelPadding":2,"labelOverlap":false}}}},
{"data":{"name":"hist"},"mark":{"type":"bar","width":3,"color":"#c0c0c0"},"encoding":{"x":{"field":"i","type":"quantitative","scale":{"domain":[-0.2,189.3]},"axis":{"title":null}},"y":{"field":"v","type":"quantitative","scale":{"domain":[-0.00506,-0.00466,0,0.00124,0.00198],"range":[90,84,19.5,7,0]},"axis":null},"y2":{"datum":0}}},
{"data":{"name":"sig"},"mark":{"type":"line","color":"#ff0000","strokeWidth":1,"strokeDash":[3,3]},"encoding":{"x":{"field":"i","type":"quantitative","scale":{"domain":[-0.2,189.3]},"axis":{"title":null}},"y":{"field":"v","type":"quantitative","scale":{"domain":[-0.00506,-0.00466,0,0.00124,0.00198],"range":[90,84,19.5,7,0]},"axis":null}}},
{"data":{"values":[{"t":"w"}]},"mark":{"type":"point","filled":true,"size":14884,"opacity":0.9,"fill":{"gradient":"linear","x1":0,"y1":0,"x2":0,"y2":1,"stops":[{"offset":0,"color":"#c44a4a"},{"offset":0.42,"color":"#c44a4a"},{"offset":0.47,"color":"#f04a4a"},{"offset":1,"color":"#f04444"}]},"stroke":null,"shape":"M1,0L.847,.074L.985,.174L.821,.22L.94,.342L.77,.359L.866,.5L.696,.488L.766,.643L.601,.601L.643,.766L.488,.696L.5,.866L.359,.77L.342,.94L.22,.821L.174,.985L.074,.847L0,1L-.074,.847L-.174,.985L-.22,.821L-.342,.94L-.359,.77L-.5,.866L-.488,.696L-.643,.766L-.601,.601L-.766,.643L-.696,.488L-.866,.5L-.77,.359L-.94,.342L-.821,.22L-.985,.174L-.847,.074L-1,0L-.847,-.074L-.985,-.174L-.821,-.22L-.94,-.342L-.77,-.359L-.866,-.5L-.696,-.488L-.766,-.643L-.601,-.601L-.643,-.766L-.488,-.696L-.5,-.866L-.359,-.77L-.342,-.94L-.22,-.821L-.174,-.985L-.074,-.847L0,-1L.074,-.847L.174,-.985L.22,-.821L.342,-.94L.359,-.77L.5,-.866L.488,-.696L.643,-.766L.601,-.601L.766,-.643L.696,-.488L.866,-.5L.77,-.359L.94,-.342L.821,-.22L.985,-.174L.847,-.074Z"},"encoding":{"x":{"datum":15.9,"scale":{"domain":[-0.2,189.3]},"axis":{"title":null}},"y":{"datum":-0.00137,"scale":{"domain":[-0.00506,-0.00466,0,0.00124,0.00198],"range":[90,84,19.5,7,0]},"axis":null}}},
{"data":{"values":[{"t":"⚙"}]},"mark":{"type":"text","color":"white","font":"DejaVu Sans","fontSize":32},"encoding":{"x":{"datum":16.6,"scale":{"domain":[-0.2,189.3]},"axis":{"title":null}},"y":{"datum":-0.0006,"scale":{"domain":[-0.00506,-0.00466,0,0.00124,0.00198],"range":[90,84,19.5,7,0]},"axis":null},"text":{"field":"t"}}},
{"data":{"values":[{"t":"InstaForex"}]},"mark":{"type":"text","color":"white","fontSize":16},"encoding":{"x":{"datum":16.5,"scale":{"domain":[-0.2,189.3]},"axis":{"title":null}},"y":{"datum":-0.00215,"scale":{"domain":[-0.00506,-0.00466,0,0.00124,0.00198],"range":[90,84,19.5,7,0]},"axis":null},"text":{"field":"t"}}},
{"data":{"values":[{"t":"MACD(12,26,9) -0.00144 -0.00170"}]},"mark":{"type":"text","align":"left","fontSize":9.5,"color":"#1a2a3a"},"encoding":{"x":{"datum":0.9,"scale":{"domain":[-0.2,189.3]},"axis":{"title":null}},"y":{"datum":0.00109,"scale":{"domain":[-0.00506,-0.00466,0,0.00124,0.00198],"range":[90,84,19.5,7,0]},"axis":null},"text":{"field":"t"}}},
{"data":{"values":[{"t":"IFX Trader, © 2001-2014, MetaQuotes Software Corp."}]},"mark":{"type":"text","align":"left","fontSize":9.5,"color":"#1a2a3a"},"encoding":{"x":{"datum":0.9,"scale":{"domain":[-0.2,189.3]},"axis":{"title":null}},"y":{"datum":-0.00455,"scale":{"domain":[-0.00506,-0.00466,0,0.00124,0.00198],"range":[90,84,19.5,7,0]},"axis":null},"text":{"field":"t"}}}
]}
]}
